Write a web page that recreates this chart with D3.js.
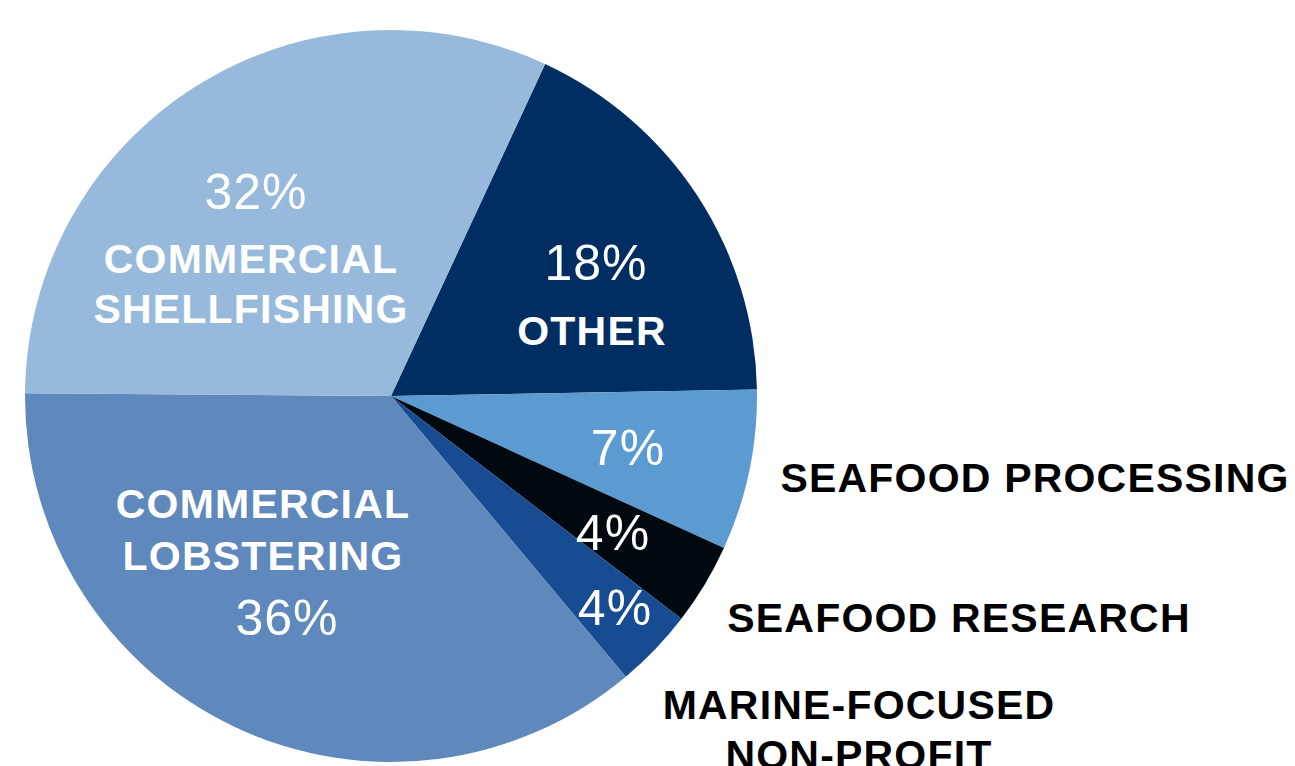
<!DOCTYPE html>
<html>
<head>
<meta charset="utf-8">
<script src="https://cdn.jsdelivr.net/npm/d3@7"></script>
<style>
  html, body { margin: 0; padding: 0; background: #fff; overflow: hidden; }
  svg { display: block; }
</style>
</head>
<body>
<svg id="chart" width="1295" height="766"></svg>
<script>
// ---- data ----
const categories = ["OTHER", "SEAFOOD PROCESSING", "SEAFOOD RESEARCH", "MARINE-FOCUSED NON-PROFIT", "COMMERCIAL LOBSTERING", "COMMERCIAL SHELLFISHING"];
const values = [17.8, 7.1, 3.6, 3.5, 36.2, 31.8];
const percentLabels = ["18%", "7%", "4%", "4%", "36%", "32%"];
const colors = ["#002d62", "#5b9bd2", "#000810", "#174c92", "#5f88bc", "#97b9db"];

// ---- layout ----
const cx = 391, cy = 396, R = 366;
const startDeg = 24.9;

const svg = d3.select("#chart");
const g = svg.append("g").attr("transform", `translate(${cx},${cy})`);

const data = categories.map((c, i) => ({ name: c, value: values[i], pct: percentLabels[i], color: colors[i] }));

const pie = d3.pie().sort(null).value(d => d.value)
  .startAngle(startDeg * Math.PI / 180)
  .endAngle(startDeg * Math.PI / 180 + 2 * Math.PI);
const arc = d3.arc().innerRadius(0).outerRadius(R);

g.selectAll("path").data(pie(data)).join("path")
  .attr("d", arc)
  .attr("fill", d => d.data.color);

// label placements (absolute page coords)
const pctPos = {
  "OTHER": [596, 280],
  "SEAFOOD PROCESSING": [628, 465],
  "SEAFOOD RESEARCH": [613, 550],
  "MARINE-FOCUSED NON-PROFIT": [615, 625],
  "COMMERCIAL LOBSTERING": [287, 635],
  "COMMERCIAL SHELLFISHING": [256, 209]
};
const namePos = {
  "OTHER": { x: 592, y: [345], fill: "#fff", lines: ["OTHER"] },
  "SEAFOOD PROCESSING": { x: 1035, y: [492], fill: "#000", lines: ["SEAFOOD PROCESSING"] },
  "SEAFOOD RESEARCH": { x: 959, y: [632], fill: "#000", lines: ["SEAFOOD RESEARCH"] },
  "MARINE-FOCUSED NON-PROFIT": { x: 859, y: [719, 769], fill: "#000", lines: ["MARINE-FOCUSED", "NON-PROFIT"] },
  "COMMERCIAL LOBSTERING": { x: 263, y: [518, 570], fill: "#fff", lines: ["COMMERCIAL", "LOBSTERING"] },
  "COMMERCIAL SHELLFISHING": { x: 251, y: [273, 323], fill: "#fff", lines: ["COMMERCIAL", "SHELLFISHING"] }
};

const labels = svg.append("g");
data.forEach(d => {
  const p = pctPos[d.name];
  labels.append("text")
    .attr("x", p[0]).attr("y", p[1])
    .attr("text-anchor", "middle")
    .attr("font-family", "'Liberation Sans', Arial, sans-serif")
    .attr("font-weight", 400)
    .attr("font-size", 50)
    .attr("letter-spacing", 1)
    .attr("fill", "#fff")
    .text(d.pct);
  const n = namePos[d.name];
  n.lines.forEach((line, i) => {
    labels.append("text")
      .attr("x", n.x).attr("y", n.y[i])
      .attr("text-anchor", "middle")
      .attr("font-family", "'Liberation Sans', Arial, sans-serif")
      .attr("font-weight", 700)
      .attr("font-size", 41)
      .attr("letter-spacing", 1.2)
      .attr("fill", n.fill)
      .text(line);
  });
});
</script>
</body>
</html>
